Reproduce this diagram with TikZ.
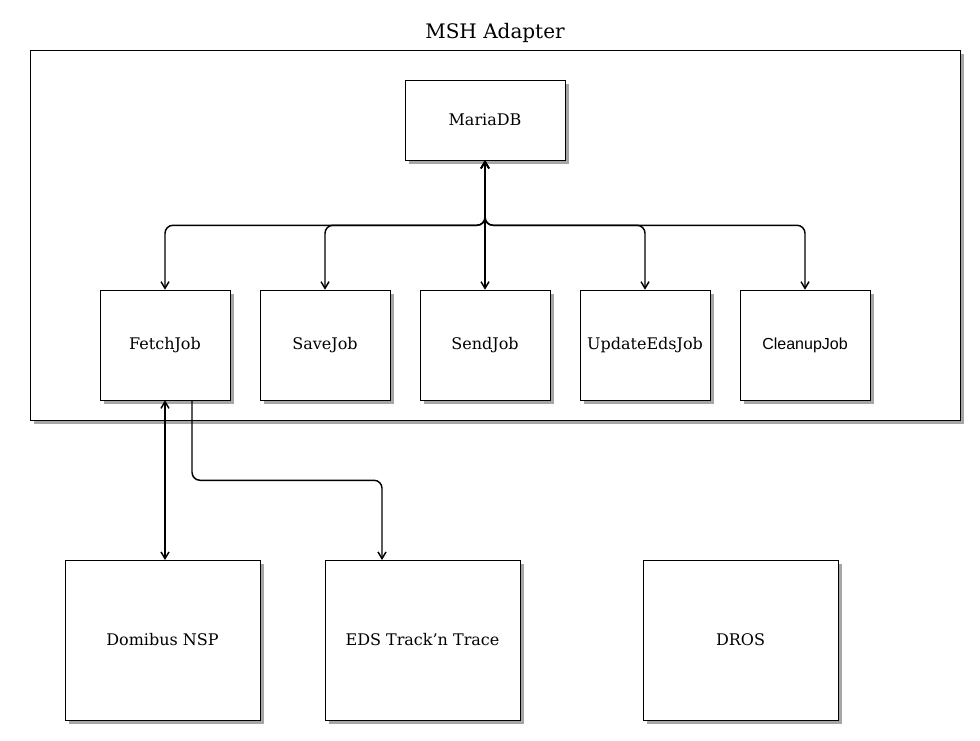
\documentclass[tikz,border=0pt]{standalone}
\usepackage{fontspec}
\setmainfont{DejaVu Serif}
\newfontfamily\arialfont{Liberation Sans}
\usetikzlibrary{arrows.meta,shadows}
\begin{document}
\begin{tikzpicture}[x=0.75pt, y=-0.75pt,
  box/.style = {draw, thin, fill=white, inner sep=0pt, font=\fontsize{12}{14}\selectfont,
    drop shadow={shadow xshift=3pt, shadow yshift=-3pt, fill=black!35, opacity=1}},
  job/.style = {box, minimum width=97.5pt, minimum height=82.5pt},
  ext/.style = {box, minimum width=146.25pt, minimum height=120pt},
  link/.style = {line width=1.1pt, rounded corners=6pt, {Straight Barb[length=5pt,width=6pt]}-{Straight Barb[length=5pt,width=6pt]}},
  feed/.style = {line width=1.1pt, rounded corners=6pt, -{Straight Barb[length=5pt,width=6pt]}}]
  \useasboundingbox (0,0) rectangle (980,740);
  \node[font=\fontsize{15}{18}\selectfont] (title) at (495,33) {MSH Adapter};
  \node[box, minimum width=697.5pt, minimum height=277.5pt] (adapter) at (495,235) {};
  \node[box, minimum width=120pt, minimum height=60pt] (db) at (485,120) {MariaDB};
  \node[job] (fetch) at (165,345) {FetchJob};
  \node[job] (save) at (325,345) {SaveJob};
  \node[job] (send) at (485,345) {SendJob};
  \node[job] (update) at (645,345) {UpdateEdsJob};
  \node[job, font=\arialfont\fontsize{12}{14}\selectfont] (cleanup) at (805,345) {CleanupJob};
  \node[ext] (domibus) at (162.5,640) {Domibus NSP};
  \node[ext] (eds) at (422.5,640) {EDS Track{\char"27}n Trace};
  \node[ext] (dros) at (740.5,640) {DROS};
  % MariaDB to the jobs
  \foreach \j in {fetch,save,update,cleanup}
    \draw[link] (db.south) -- ++(0,65) -| (\j.north);
  \draw[link] (db.south) -- (send.north);
  % FetchJob to the outside
  \coordinate (domin) at (165,560);
  \draw[link] (fetch.south) -- (domin);
  \coordinate (fetchout) at ([xshift=20.25pt]fetch.south);
  \coordinate (edsin) at (382,560);
  \draw[feed] (fetchout) -- ++(0,80) -| (edsin);
\end{tikzpicture}
\end{document}
